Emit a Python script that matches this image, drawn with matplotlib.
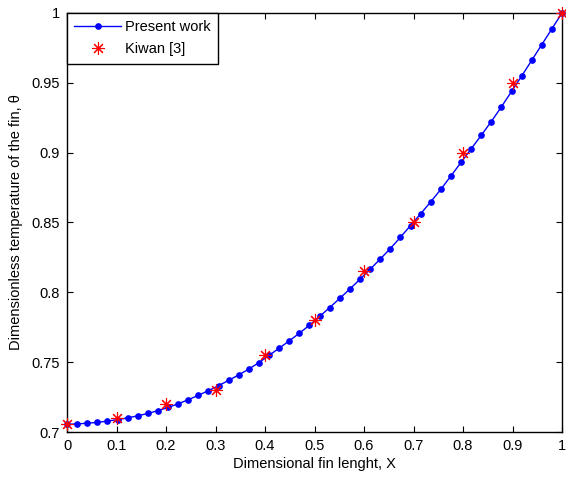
import numpy as np
import matplotlib.pyplot as plt

plt.rcParams['font.family'] = ['Liberation Sans', 'DejaVu Sans']

# present work: 50 grid points from 0 to 1
x_present = np.linspace(0, 1, 50)
theta_present = [0.7055, 0.7058, 0.7063, 0.7069, 0.7078, 0.7089, 0.7101, 0.7116, 0.7133, 0.7153,
                 0.7176, 0.7202, 0.7231, 0.7263, 0.7296, 0.7332, 0.7370, 0.7409, 0.7451, 0.7497,
                 0.7549, 0.7600, 0.7653, 0.7707, 0.7765, 0.7827, 0.7891, 0.7957, 0.8024, 0.8094,
                 0.8165, 0.8238, 0.8313, 0.8394, 0.8478, 0.8562, 0.8648, 0.8737, 0.8833, 0.8930,
                 0.9027, 0.9124, 0.9223, 0.9328, 0.9438, 0.9548, 0.9661, 0.9774, 0.9887, 1.0]

# Kiwan [3]
x_kiwan = [0.0, 0.1, 0.2, 0.3, 0.4, 0.5, 0.6, 0.7, 0.8, 0.9, 1.0]
theta_kiwan = [0.706, 0.710, 0.720, 0.730, 0.755, 0.780, 0.815, 0.850, 0.900, 0.950, 1.000]

xticks = [0, 0.1, 0.2, 0.3, 0.4, 0.5, 0.6, 0.7, 0.8, 0.9, 1]
xticklabels = ['0', '0.1', '0.2', '0.3', '0.4', '0.5', '0.6', '0.7', '0.8', '0.9', '1']
yticks = [0.7, 0.75, 0.8, 0.85, 0.9, 0.95, 1.0]
yticklabels = ['0.7', '0.75', '0.8', '0.85', '0.9', '0.95', '1']

fig = plt.figure(figsize=(5.66, 4.79), dpi=100)
ax = fig.add_axes([0.1184, 0.0981, 0.8746, 0.8748])

ax.plot(x_present, theta_present, color='blue', lw=1.0, marker='o', ms=3.8,
        mec='blue', mfc='blue', label='Present work', clip_on=False)
ax.plot(x_kiwan, theta_kiwan, ls='none', marker=(8, 2, 0), ms=9, mew=0.8,
        color='red', label='Kiwan [3]', clip_on=False, zorder=3)

ax.set_xlim(0, 1)
ax.set_ylim(0.7, 1)
ax.set_xticks(xticks)
ax.set_xticklabels(xticklabels)
ax.set_yticks(yticks)
ax.set_yticklabels(yticklabels)
ax.tick_params(direction='in', length=4.5, width=0.8, top=True, right=True,
               labelsize=10.5, pad=5)
for s in ax.spines.values():
    s.set_linewidth(1.0)

ax.set_xlabel('Dimensional fin lenght, X', fontsize=10.5, labelpad=3)
ax.set_ylabel('Dimensionless temperature of the fin, \u03b8', fontsize=10.5, labelpad=6)

leg = ax.legend(loc='upper left', borderaxespad=0, fancybox=False, fontsize=10.5,
                handlelength=3.2, handletextpad=0.3, borderpad=0.5, labelspacing=0.55,
                framealpha=1)
leg.get_frame().set_edgecolor('black')
leg.get_frame().set_linewidth(1.0)

fig.savefig('out.png', dpi=100)
